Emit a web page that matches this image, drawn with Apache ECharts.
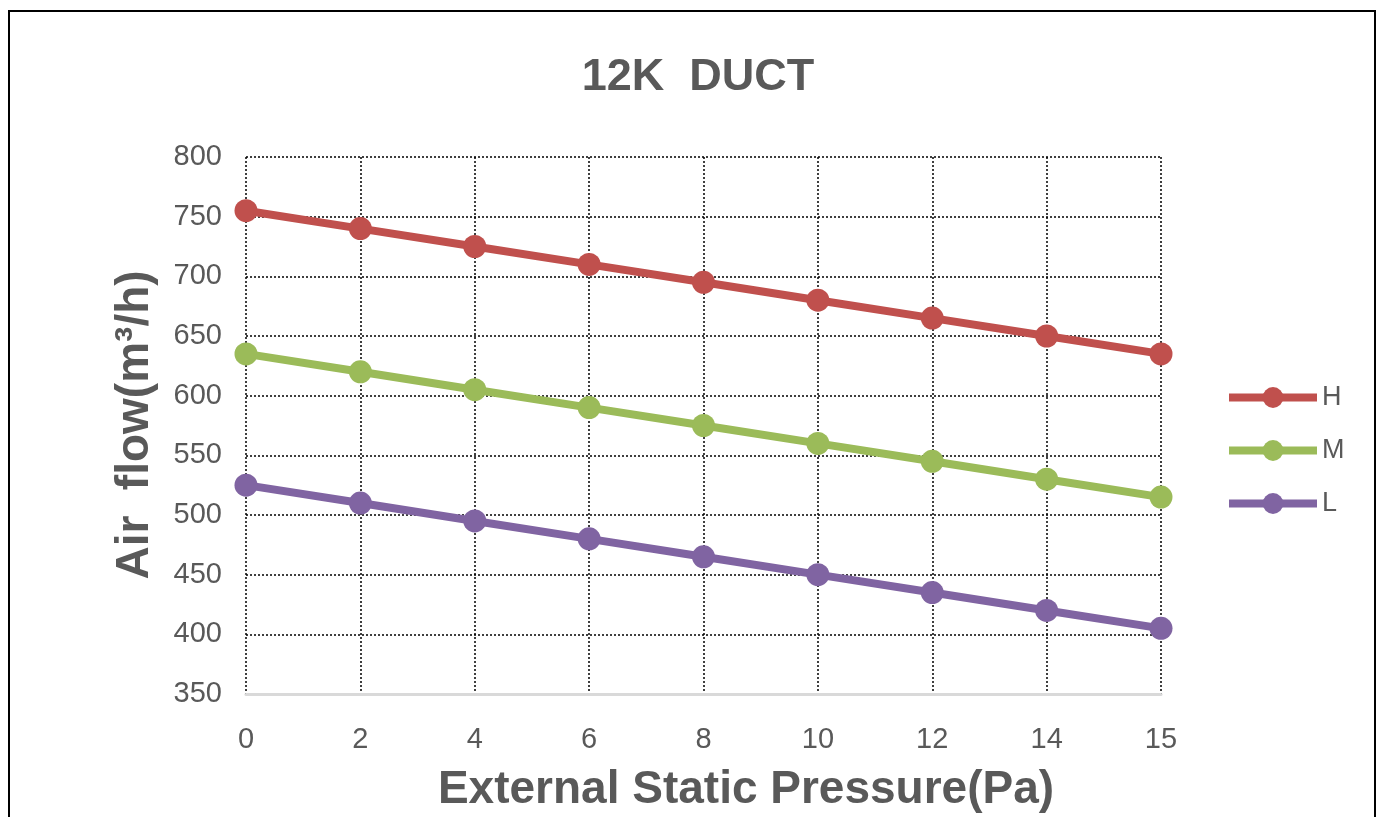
<!DOCTYPE html>
<html>
<head>
<meta charset="utf-8">
<script src="https://cdn.jsdelivr.net/npm/echarts@6/dist/echarts.min.js"></script>
<style>
html,body{margin:0;padding:0;background:#fff;}
#chart{width:1376px;height:817px;}
</style>
</head>
<body>
<div id="chart"></div>
<script>
const categories = ['0','2','4','6','8','10','12','14','15'];
const seriesH = [755, 740, 725, 710, 695, 680, 665, 650, 635];
const seriesM = [635, 620, 605, 590, 575, 560, 545, 530, 515];
const seriesL = [525, 510, 495, 480, 465, 450, 435, 420, 405];
const seriesNames = ['H', 'M', 'L'];
const colors = ['#C0504D', '#9BBB59', '#8064A2'];

const chart = echarts.init(document.getElementById('chart'));
const font = 'Arial, "Liberation Sans", sans-serif';
const mk = (name, data, color) => ({
  name, type: 'line', data,
  symbol: 'circle', symbolSize: 23,
  lineStyle: { width: 8, color },
  itemStyle: { color },
  emphasis: { disabled: true }
});
chart.setOption({
  animation: false,
  color: colors,
  title: [
    { text: '12K  DUCT', left: 693, top: 50, textAlign: 'center',
      textStyle: { fontFamily: font, fontSize: 45, lineHeight: 46, fontWeight: 'bold', color: '#595959' } },
    { text: 'External Static Pressure(Pa)', left: 741, top: 762, textAlign: 'center',
      textStyle: { fontFamily: font, fontSize: 46, lineHeight: 46, fontWeight: 'bold', color: '#595959' } }
  ],
  graphic: [
    { type: 'rect', shape: { x: 9, y: 11, width: 1366, height: 830 },
      style: { fill: 'none', stroke: '#000', lineWidth: 2 }, z: -1 },
    { type: 'text', x: 135, y: 425, rotation: Math.PI / 2,
      style: { text: 'Air  flow(m³/h)', font: 'bold 46px ' + font, fill: '#595959',
               textAlign: 'center', textVerticalAlign: 'middle' } }
  ],
  legend: {
    orient: 'vertical', left: 1220, top: 379,
    itemWidth: 88, itemHeight: 26, itemGap: 26,
    data: seriesNames,
    lineStyle: { width: 8 },
    itemStyle: { borderWidth: 0 },
    textStyle: { fontFamily: font, fontSize: 27, lineHeight: 26, color: '#595959' }
  },
  grid: { left: 246, right: 215, top: 157, bottom: 123, containLabel: false },
  xAxis: {
    type: 'category', data: categories, boundaryGap: false,
    axisLine: { show: true, lineStyle: { color: '#D9D9D9', width: 3 } },
    axisTick: { show: false },
    axisLabel: { fontFamily: font, fontSize: 29, color: '#595959', margin: 31 },
    splitLine: { show: true, lineStyle: { color: '#000', type: [2, 2], width: 1.5 } }
  },
  yAxis: {
    type: 'value', min: 350, max: 800, interval: 50,
    axisLine: { show: false }, axisTick: { show: false },
    axisLabel: { fontFamily: font, fontSize: 29, color: '#595959', margin: 24 },
    splitLine: { show: true, lineStyle: { color: '#000', type: [2, 2], width: 1.5 } }
  },
  series: [
    mk(seriesNames[0], seriesH, colors[0]),
    mk(seriesNames[1], seriesM, colors[1]),
    mk(seriesNames[2], seriesL, colors[2])
  ]
});
</script>
</body>
</html>
